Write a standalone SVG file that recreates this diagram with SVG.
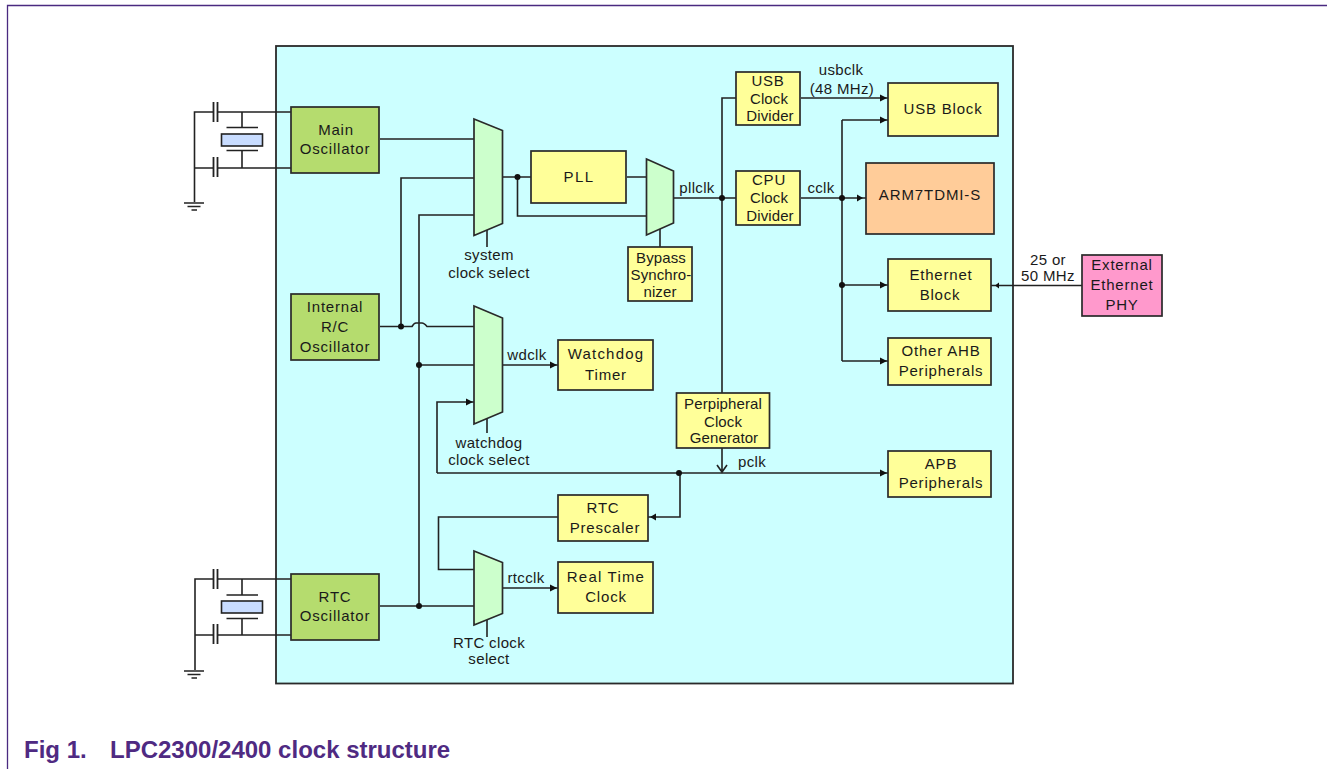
<svg xmlns="http://www.w3.org/2000/svg" width="1327" height="769" viewBox="0 0 1327 769">
<defs>
<marker id="ah" markerUnits="userSpaceOnUse" markerWidth="8" markerHeight="8" refX="8" refY="4" orient="auto"><path d="M0 0.500L7 4L0 7.500Z" fill="#111"/></marker>
</defs>
<style>
text{font-family:"Liberation Sans",Arial,sans-serif;font-size:15px;fill:#1a1a1a;text-anchor:middle;letter-spacing:.8px}
text.t{letter-spacing:.1px}
text.l{letter-spacing:.35px}
text.f{font-size:24px;font-weight:700;fill:#4f2a82;text-anchor:start;letter-spacing:0}
.n{stroke:#2a2a2a;stroke-width:1.700}
.y{fill:#ffff99}.g{fill:#b5dc6e}.m{fill:#ccffcc}
.w{fill:none;stroke:#222;stroke-width:1.600}
.p{fill:none;stroke:#222;stroke-width:1.800}
.x{fill:#c8dcff;stroke:#222;stroke-width:1.600}
.d{fill:#111;stroke:none}
</style>
<rect width="1327" height="769" fill="#fff"/>
<path d="M7.500 769V5.500H1327" fill="none" stroke="#4a2a80" stroke-width="1.300"/>
<rect id="chip" x="276" y="46" width="737" height="637.500" fill="#ccffff" stroke="#2a2a2a" stroke-width="1.800"/>

<g id="connectors">
<path class="w" d="M291 112H218M213.500 112H194.500V202M291 168H218M213.500 168H195M242 112V127M242 151V168"/>
<path class="w" d="M184 203H204M187.500 206.500H200.500M191.500 210H197"/>
<path class="p" d="M213.500 102V122M217.500 102V122M213.500 157V177M217.500 157V177"/>
<path class="w" d="M226.500 127.500H258M226.500 150.500H258"/>
<path class="w" d="M291 579H218M213.500 579H195V670M291 635H218M213.500 635H195M242 579V595M242 618.500V635"/>
<path class="w" d="M184 671H204M187.500 674.500H200.500M191.500 678H197"/>
<path class="p" d="M213.500 569V589M217.500 569V589M213.500 624V644M217.500 624V644"/>
<path class="w" d="M226.500 595H258M226.500 618.500H258"/>
<path class="w" d="M380 139H474M401 326.500V178H474M419 606V215H474"/>
<path class="w" d="M380 326.500H412Q414 323 416 323H422Q424 323 427 326.500H474"/>
<path class="w" d="M419 365H474"/>
<path class="w" d="M487 230V247M487 418V433M487 620V637"/>
<path class="w" d="M503 177H531M517.500 177V216H647M627 177H647"/>
<path class="w" d="M660 229V247"/>
<path class="w" d="M674 198H736M722 393V98H736"/>
<path class="w" d="M801 198H866"/>
<path class="d" d="M857 194.500L863 198L857 201.500Z"/>
<path class="w" d="M801 98H888" marker-end="url(#ah)"/>
<path class="w" d="M842 120V361"/>
<path class="w" d="M842 120H888" marker-end="url(#ah)"/>
<path class="w" d="M842 285H888" marker-end="url(#ah)"/>
<path class="w" d="M842 361H888" marker-end="url(#ah)"/>
<path class="w" d="M1082 285.500H991"/>
<path class="d" d="M999 282.500L995 285.500L999 288.500Z"/>
<path class="w" d="M503 365H558" marker-end="url(#ah)"/>
<path class="w" d="M503 588H558" marker-end="url(#ah)"/>
<path class="w" d="M437 473V402H474" marker-end="url(#ah)"/>
<path class="w" d="M437 473H888" marker-end="url(#ah)"/>
<path class="w" d="M722 448V472M717 465L722 472L727 465"/>
<path class="w" d="M680 473V517H648"/>
<path class="d" d="M656 513.500L650 517L656 520.500Z"/>
<path class="w" d="M558 517H438.500V569.500H474"/>
<path class="w" d="M380 606H474"/>
<circle class="d" cx="401" cy="326.500" r="3"/><circle class="d" cx="419" cy="365" r="3"/><circle class="d" cx="419" cy="606" r="3"/><circle class="d" cx="517.500" cy="177" r="3"/><circle class="d" cx="722" cy="198" r="3"/><circle class="d" cx="842" cy="198" r="3"/><circle class="d" cx="842" cy="285" r="3"/><circle class="d" cx="679" cy="473" r="3"/>
</g>

<g id="crystal-main"><rect class="x" x="221.500" y="134" width="41" height="12"/></g>
<g id="crystal-rtc"><rect class="x" x="221.500" y="601" width="41" height="12"/></g>

<g id="main-osc"><rect class="n g" x="291" y="107" width="88" height="66"/><text x="336" y="135">Main</text><text x="335" y="153.500">Oscillator</text></g>
<g id="rc-osc"><rect class="n g" x="291" y="294" width="88" height="66"/><text x="335" y="312">Internal</text><text x="335" y="332">R/C</text><text x="335" y="352">Oscillator</text></g>
<g id="rtc-osc"><rect class="n g" x="291" y="574" width="88" height="66"/><text x="335" y="602">RTC</text><text x="335" y="621">Oscillator</text></g>

<g id="mux-system"><path class="n m" d="M474 119L502.500 130.500V223.500L474 235.500Z"/><text class="l" x="489" y="260">system</text><text class="l" x="489" y="278">clock select</text></g>
<g id="mux-watchdog"><path class="n m" d="M474 306L502.500 318V412L474 424Z"/><text class="l" x="489" y="448">watchdog</text><text class="l" x="489" y="465">clock select</text></g>
<g id="mux-rtc"><path class="n m" d="M474 551L502.500 562.500V613.500L474 625Z"/><text class="l" x="489" y="648">RTC clock</text><text class="l" x="489" y="664">select</text></g>
<g id="mux-pll"><path class="n m" d="M646.500 159L673.500 171V223L646.500 235Z"/></g>

<g id="pll"><rect class="n y" x="531" y="151" width="95" height="52"/><text x="579" y="182" style="letter-spacing:1.500px">PLL</text></g>
<g id="bypass"><rect class="n y" x="628" y="247" width="64" height="54"/><text class="t" x="661" y="263">Bypass</text><text class="t" x="661" y="280">Synchro-</text><text class="t" x="660" y="297">nizer</text></g>
<g id="usb-div"><rect class="n y" x="736" y="72" width="64" height="53"/><text x="768" y="86">USB</text><text class="t" x="769" y="104">Clock</text><text class="t" x="770" y="121">Divider</text></g>
<g id="cpu-div"><rect class="n y" x="736" y="171" width="64" height="54"/><text x="769" y="185">CPU</text><text class="t" x="769" y="203">Clock</text><text class="t" x="770" y="221">Divider</text></g>
<g id="usb-block"><rect class="n y" x="888" y="83" width="110" height="53"/><text x="943" y="114">USB Block</text></g>
<g id="arm"><rect class="n" fill="#ffcc99" x="866" y="163" width="128" height="71"/><text x="930" y="200" style="letter-spacing:.9px">ARM7TDMI-S</text></g>
<g id="eth-block"><rect class="n y" x="888" y="259" width="103" height="52"/><text x="941" y="280">Ethernet</text><text x="940" y="300">Block</text></g>
<g id="ahb"><rect class="n y" x="888" y="338" width="103" height="47"/><text x="941" y="356">Other AHB</text><text x="941" y="376">Peripherals</text></g>
<g id="apb"><rect class="n y" x="888" y="451" width="103" height="46"/><text x="941" y="469">APB</text><text x="941" y="488">Peripherals</text></g>
<g id="watchdog"><rect class="n y" x="558" y="340" width="95" height="50"/><text x="606" y="359" style="letter-spacing:1.200px">Watchdog</text><text x="606" y="380">Timer</text></g>
<g id="periph"><rect class="n y" x="676.500" y="393" width="93" height="55"/><text class="t" x="723" y="409">Perpipheral</text><text class="t" x="723" y="426.500">Clock</text><text class="t" x="724" y="443">Generator</text></g>
<g id="rtc-pre"><rect class="n y" x="558" y="495" width="90" height="46"/><text x="603" y="513">RTC</text><text x="605" y="533">Prescaler</text></g>
<g id="rtc"><rect class="n y" x="558" y="562" width="95" height="51"/><text x="606" y="582" style="letter-spacing:1.200px">Real Time</text><text x="606" y="602">Clock</text></g>
<g id="phy"><rect class="n" fill="#ff99cc" x="1082" y="255" width="80" height="61"/><text x="1122" y="270">External</text><text x="1122" y="290">Ethernet</text><text x="1122" y="310">PHY</text></g>

<g id="labels">
<text class="l" x="697" y="193">pllclk</text><text class="l" x="821" y="193">cclk</text><text class="l" x="841" y="75">usbclk</text><text class="l" x="842" y="94">(48 MHz)</text>
<text class="l" x="527" y="360">wdclk</text><text class="l" x="526" y="583">rtcclk</text><text class="l" x="752" y="467">pclk</text>
<text class="l" x="1048" y="265">25 or</text><text class="l" x="1048" y="281">50 MHz</text>
</g>
<text class="f" x="24" y="758">Fig 1.</text>
<text class="f" x="110" y="758">LPC2300/2400 clock structure</text>
</svg>
